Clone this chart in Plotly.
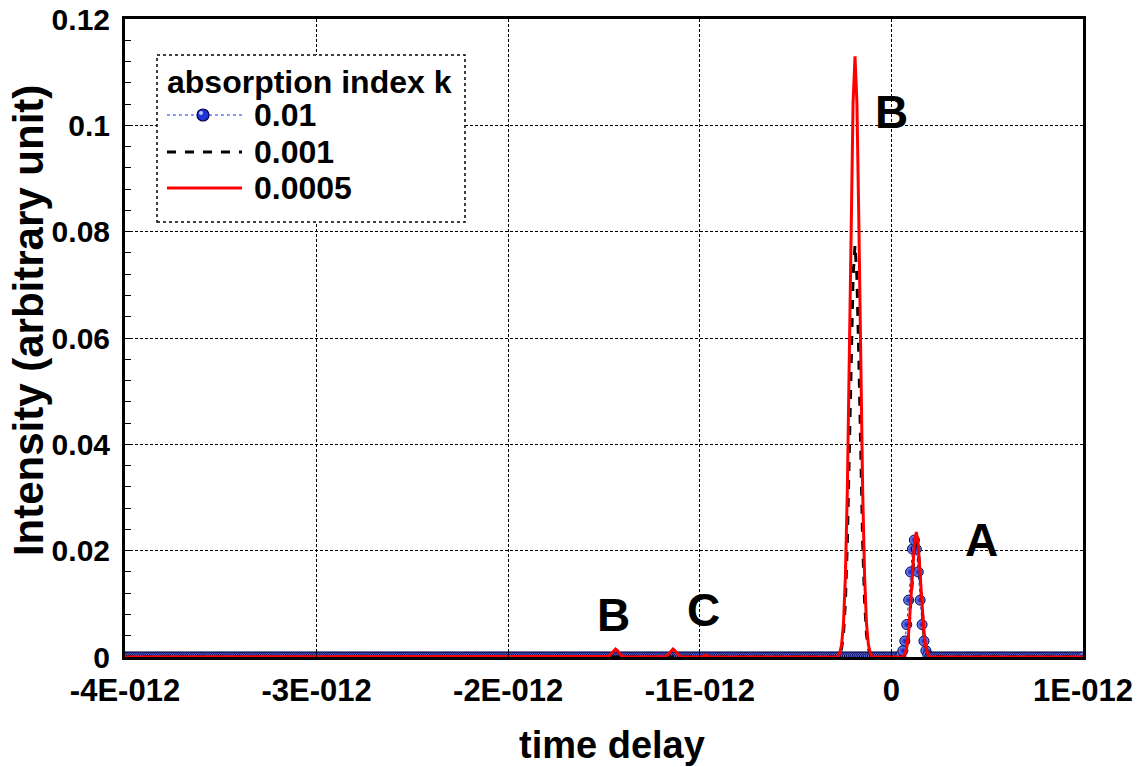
import numpy as np
import plotly.graph_objects as go

# ---------------- data ----------------
# sampling grid of the simulation, in picoseconds
t_ps = np.round(np.linspace(-4.0, 1.0, 501), 2)

# k = 0.01 : only peak A is visible
k001_peak_t = [0.05, 0.06, 0.07, 0.08, 0.09, 0.10, 0.11, 0.12, 0.13, 0.14, 0.15, 0.16, 0.17, 0.18, 0.19]
k001_peak_v = [0.0004, 0.0012, 0.0030, 0.0061, 0.0107, 0.0160, 0.0203, 0.0220, 0.0203, 0.0160, 0.0107, 0.0061, 0.0030, 0.0012, 0.0004]

# k = 0.001 : peak B (main) and peak A
k0001_peak_t = [-0.27, -0.26, -0.25, -0.24, -0.23, -0.22, -0.21, -0.20, -0.19, -0.18, -0.17, -0.16, -0.15, -0.14, -0.13, -0.12, -0.11,
                0.07, 0.08, 0.09, 0.10, 0.11, 0.12, 0.13, 0.14, 0.15, 0.16, 0.17, 0.18, 0.19]
k0001_peak_v = [0.0005, 0.0016, 0.0043, 0.0105, 0.0215, 0.0377, 0.0563, 0.0715, 0.0775, 0.0715, 0.0563, 0.0377, 0.0215, 0.0105, 0.0043, 0.0016, 0.0005,
                0.0005, 0.0017, 0.0043, 0.0089, 0.0149, 0.0203, 0.0225, 0.0203, 0.0149, 0.0089, 0.0043, 0.0017, 0.0005]

# k = 0.0005 : small B and C echoes, main B and A
k00005_peak_t = [-1.48, -1.47, -1.46, -1.45, -1.44, -1.43, -1.42, -1.41, -1.40,
                 -1.18, -1.17, -1.16, -1.15, -1.14, -1.13, -1.12, -1.11, -1.10,
                 -0.98, -0.97, -0.96,
                 -0.27, -0.26, -0.25, -0.24, -0.23, -0.22, -0.21, -0.20, -0.19, -0.18, -0.17, -0.16, -0.15, -0.14, -0.13, -0.12, -0.11,
                 0.07, 0.08, 0.09, 0.10, 0.11, 0.12, 0.13, 0.14, 0.15, 0.16, 0.17, 0.18, 0.19]
k00005_peak_v = [0.0001, 0.0003, 0.0007, 0.0012, 0.0015, 0.0012, 0.0007, 0.0003, 0.0001,
                 0.0001, 0.0003, 0.0007, 0.0012, 0.0015, 0.0012, 0.0007, 0.0003, 0.0001,
                 0.0002, 0.0004, 0.0002,
                 0.0007, 0.0023, 0.0063, 0.0153, 0.0314, 0.0550, 0.0820, 0.1043, 0.1130, 0.1043, 0.0820, 0.0550, 0.0314, 0.0153, 0.0063, 0.0023, 0.0007,
                 0.0006, 0.0018, 0.0045, 0.0093, 0.0156, 0.0212, 0.0235, 0.0212, 0.0156, 0.0093, 0.0045, 0.0018, 0.0006]

series_names = ["0.01", "0.001", "0.0005"]
legend_title = "absorption index k"
x_title = "time delay"
y_title = "Intensity (arbitrary unit)"

x_tickvals = [-4e-12, -3e-12, -2e-12, -1e-12, 0, 1e-12]
x_ticktext = ["-4E-012", "-3E-012", "-2E-012", "-1E-012", "0", "1E-012"]
y_tickvals = [0, 0.02, 0.04, 0.06, 0.08, 0.1, 0.12]
y_ticktext = ["0", "0.02", "0.04", "0.06", "0.08", "0.1", "0.12"]

labels_text = ["B", "A", "B", "C"]
labels_x_ps = [0.0, 0.47, -1.45, -0.98]
labels_y = [0.1025, 0.022, 0.0079, 0.0088]


def build(peak_t, peak_v):
    y = np.zeros_like(t_ps)
    for tt, vv in zip(peak_t, peak_v):
        y[int(round((tt + 4.0) / 0.01))] = vv
    return y


t_s = t_ps * 1e-12
y_001 = build(k001_peak_t, k001_peak_v)
y_0001 = build(k0001_peak_t, k0001_peak_v)
y_00005 = build(k00005_peak_t, k00005_peak_v)

FONT = "Liberation Sans, Arial, sans-serif"
BLUE_LINE = dict(color="#1030ff", width=1, dash="dot")
BLACK_LINE = dict(color="black", width=3, dash="dash")
RED_LINE = dict(color="#ff0000", width=3)

fig = go.Figure()
fig.add_trace(go.Scatter(
    x=t_s, y=y_001, name=series_names[0], mode="lines+markers",
    line=BLUE_LINE,
    marker=dict(symbol="circle", size=10, color="#7d93ff",
                gradient=dict(type="radial", color="#0a1ab8"),
                line=dict(color="#00004a", width=1)),
))
fig.add_trace(go.Scatter(x=t_s, y=y_0001, name=series_names[1], mode="lines", line=BLACK_LINE))
fig.add_trace(go.Scatter(x=t_s, y=y_00005, name=series_names[2], mode="lines", line=RED_LINE))

for txt, xp, yv in zip(labels_text, labels_x_ps, labels_y):
    fig.add_annotation(x=xp * 1e-12, y=yv, text="<b>%s</b>" % txt, showarrow=False,
                       font=dict(family=FONT, size=46, color="black"))

# axis titles (placed as in the reference)
fig.add_annotation(xref="paper", yref="paper", x=0.5084, y=-0.138, xanchor="center", yanchor="middle",
                   text="<b>%s</b>" % x_title, showarrow=False,
                   font=dict(family=FONT, size=38, color="black"))
fig.add_annotation(xref="paper", yref="paper", x=-0.1013, y=0.528, xanchor="center", yanchor="middle",
                   text="<b>%s</b>" % y_title, showarrow=False, textangle=-90,
                   font=dict(family=FONT, size=42, color="black"))

# ---------- hand-drawn legend box (dotted border, long line samples) ----------
fig.add_shape(type="rect", xref="paper", yref="paper",
              x0=0.0334, x1=0.3549, y0=0.6818, y1=0.9436,
              line=dict(color="black", width=1.5, dash="dot"),
              fillcolor="white", layer="above")
fig.add_annotation(xref="paper", yref="paper", x=0.0418, y=0.9013, xanchor="left", yanchor="middle",
                   text="<b>%s</b>" % legend_title, showarrow=False,
                   font=dict(family=FONT, size=32, color="black"))
entry_y = [0.8495, 0.7915, 0.7351]
entry_lines = [BLUE_LINE, BLACK_LINE, RED_LINE]
for name, ey, ln in zip(series_names, entry_y, entry_lines):
    fig.add_shape(type="line", xref="paper", yref="paper", x0=0.0438, x1=0.1221, y0=ey, y1=ey,
                  line=ln, layer="above")
    fig.add_annotation(xref="paper", yref="paper", x=0.1326, y=ey, xanchor="left", yanchor="middle",
                       text="<b>%s</b>" % name, showarrow=False,
                       font=dict(family=FONT, size=32, color="black"))
# marker of the 0.01 entry
fig.add_shape(type="circle", xref="paper", yref="paper", xsizemode="pixel", ysizemode="pixel",
              xanchor=0.0814, yanchor=entry_y[0], x0=-6, x1=6, y0=-6, y1=6,
              fillcolor="#1f34d8", line=dict(color="#00004a", width=1.2), layer="above")
fig.add_shape(type="circle", xref="paper", yref="paper", xsizemode="pixel", ysizemode="pixel",
              xanchor=0.0814, yanchor=entry_y[0], x0=-4, x1=0, y0=0, y1=4,
              fillcolor="#b8c4ff", line=dict(width=0), layer="above")

fig.update_layout(
    width=1145, height=767,
    margin=dict(l=125, r=62, t=19, b=110),
    paper_bgcolor="white", plot_bgcolor="white",
    font=dict(family=FONT, size=29, color="black"),
    showlegend=False,
    xaxis=dict(
        range=[-4e-12, 1e-12], automargin=False,
        tickvals=x_tickvals, ticktext=["<b>%s</b>" % s for s in x_ticktext],
        tickfont=dict(family=FONT, size=31), ticklabelstandoff=4, ticklabeloverflow="allow",
        showgrid=True, gridcolor="black", gridwidth=1.2, griddash="3px,2px",
        zeroline=False,
        showline=True, linecolor="black", linewidth=3, mirror=True,
        ticks="inside", ticklen=8, tickcolor="black",
    ),
    yaxis=dict(
        range=[0, 0.12], automargin=False,
        tickvals=y_tickvals, ticktext=["<b>%s</b>" % s for s in y_ticktext],
        tickfont=dict(family=FONT, size=30), ticklabelstandoff=6, ticklabeloverflow="allow",
        showgrid=True, gridcolor="black", gridwidth=1.2, griddash="3px,2px",
        zeroline=False,
        showline=True, linecolor="black", linewidth=3, mirror=True,
        ticks="inside", ticklen=8, tickcolor="black",
        minor=dict(dtick=0.004, ticks="inside", ticklen=6, tickcolor="black", showgrid=False),
    ),
)

# remove the page's default 8 px body margin so the figure fills the window exactly
fig.write_html("out.html", config={"displayModeBar": False},
               post_script="document.body.style.margin='0';document.body.style.overflow='hidden';")
